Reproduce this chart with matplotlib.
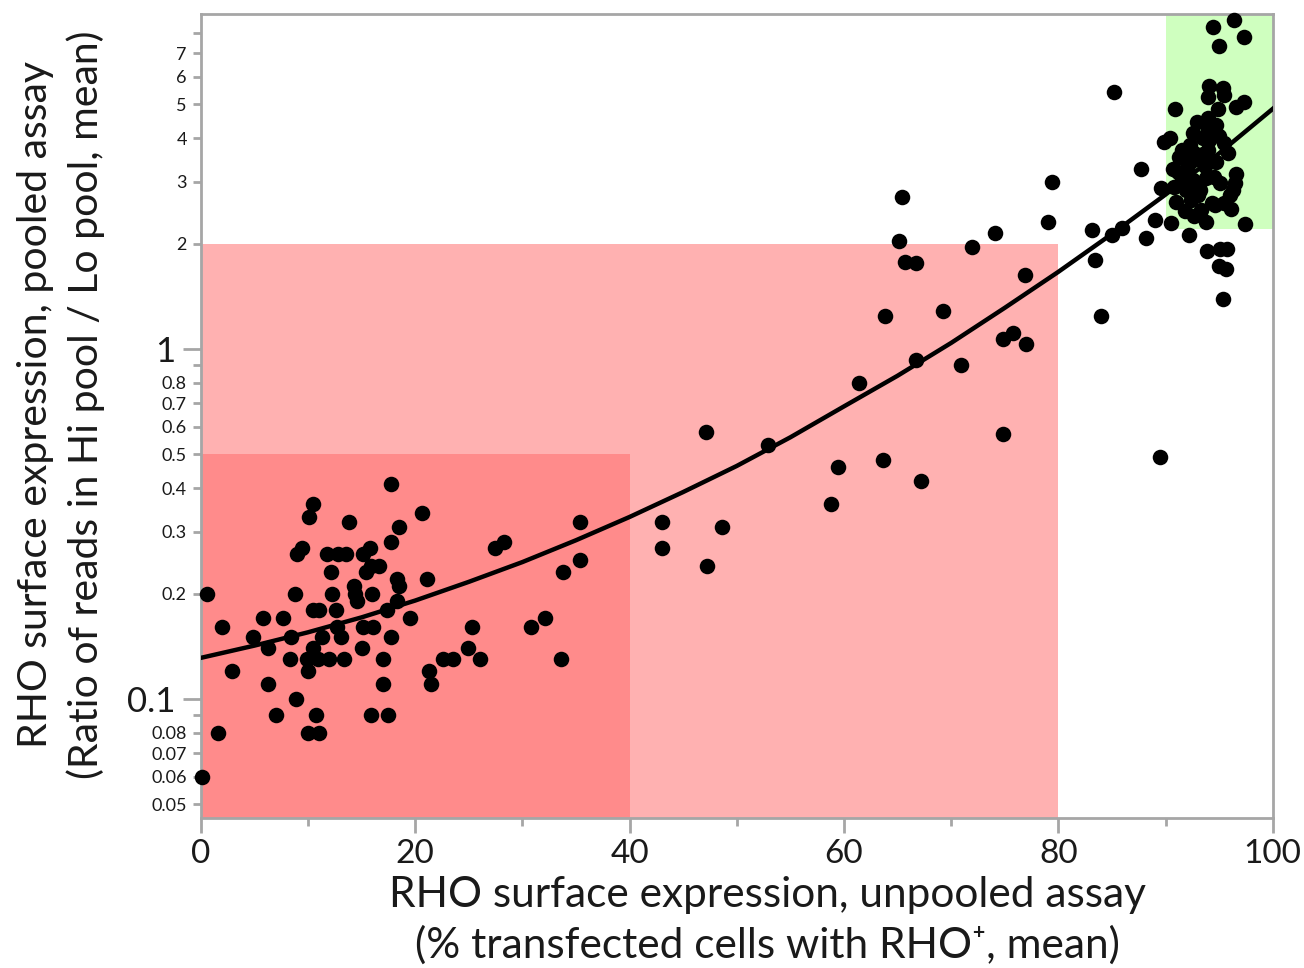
import matplotlib.pyplot as plt
from matplotlib.patches import Rectangle
from matplotlib.ticker import FixedLocator, FixedFormatter

plt.rcParams['font.family'] = ['Lato', 'DejaVu Sans']

# unpooled assay (% RHO+ cells) and pooled ratio (Hi/Lo)
low_x = [0.6, 0.1, 2.0, 1.6, 2.9, 4.9, 5.8, 6.3, 6.3, 7.0, 7.7, 8.4, 8.3, 8.8, 8.9, 9.0, 9.4,
         10.0, 10.1, 10.5, 10.5, 10.7, 11.0, 10.0, 9.9, 10.5, 11.0, 10.9, 11.3, 11.8, 12.1,
         12.2, 12.0, 12.7, 12.8, 13.5, 13.8, 13.1, 13.4, 14.3, 14.4, 14.6, 12.6, 15.1, 15.8,
         15.4, 15.9, 16.6, 16.0, 15.0, 15.1, 16.1, 15.9, 17.0, 17.0, 17.4, 17.5, 17.7, 17.7,
         17.7, 18.5, 18.3, 18.5, 18.3, 19.5, 20.6, 21.1, 21.3, 21.5, 22.6, 23.5, 24.9, 25.3,
         26.0, 27.4, 28.3, 30.8, 32.1, 33.6, 33.8, 35.4, 35.4]
low_y = [0.20, 0.06, 0.16, 0.08, 0.12, 0.15, 0.17, 0.14, 0.11, 0.09, 0.17, 0.15, 0.13, 0.20,
         0.10, 0.26, 0.27, 0.08, 0.33, 0.36, 0.18, 0.09, 0.08, 0.12, 0.13, 0.14, 0.18, 0.13,
         0.15, 0.26, 0.23, 0.20, 0.13, 0.16, 0.26, 0.26, 0.32, 0.15, 0.13, 0.21, 0.20, 0.19,
         0.18, 0.26, 0.27, 0.23, 0.24, 0.24, 0.20, 0.14, 0.16, 0.16, 0.09, 0.13, 0.11, 0.18,
         0.09, 0.41, 0.28, 0.15, 0.31, 0.22, 0.21, 0.19, 0.17, 0.34, 0.22, 0.12, 0.11, 0.13,
         0.13, 0.14, 0.16, 0.13, 0.27, 0.28, 0.16, 0.17, 0.13, 0.23, 0.32, 0.25]

mid_x = [43.0, 43.0, 47.1, 47.2, 48.6, 52.9, 58.8, 59.4, 61.4, 63.6, 63.8, 65.4, 65.1, 65.7,
         66.7, 66.7, 67.2, 69.2, 70.9, 71.9, 74.1, 74.8, 75.8, 74.8, 76.9, 77.0, 79.0, 79.4,
         83.1, 83.4, 84.0, 85.0, 85.9, 85.2, 87.7, 88.2, 89.0, 89.6, 89.5]
mid_y = [0.32, 0.27, 0.58, 0.24, 0.31, 0.53, 0.36, 0.46, 0.80, 0.48, 1.24, 2.71, 2.04, 1.77,
         1.76, 0.93, 0.42, 1.28, 0.90, 1.95, 2.14, 1.07, 1.11, 0.57, 1.63, 1.03, 2.31, 2.99,
         2.18, 1.80, 1.24, 2.12, 2.21, 5.41, 3.27, 2.07, 2.33, 2.88, 0.49]

high_x = [89.9, 90.4, 90.9, 90.7, 90.5, 92.2, 93.3, 94.6, 96.1, 97.4, 93.9, 95.1, 95.7, 95.0,
          95.6, 95.4, 91.8, 96.4, 94.4, 95.0, 97.3, 94.1, 95.4, 94.0, 95.5, 97.3, 96.6, 94.9,
          94.0, 94.7, 92.6, 94.0, 93.5, 92.3, 95.5, 91.3, 92.7, 94.0, 95.8, 92.1, 93.7, 94.7,
          96.6, 91.5, 92.6, 93.8, 95.1, 96.5, 91.9, 93.2, 96.0, 91.0, 92.4, 94.3, 95.5, 91.2,
          92.6, 94.1, 92.9, 92.3, 93.0, 94.5, 92.0, 93.5, 90.8, 93.8, 92.7, 96.3, 95.0, 91.5]
high_y = [3.91, 4.00, 4.84, 3.26, 2.29, 2.12, 2.49, 2.58, 2.51, 2.28, 1.90, 1.93, 1.93, 1.73,
          1.69, 1.39, 2.47, 8.71, 8.30, 7.35, 7.77, 5.64, 5.57, 5.25, 5.32, 5.09, 4.92, 4.84,
          4.56, 4.37, 4.14, 4.22, 4.00, 3.83, 3.87, 3.54, 3.62, 3.70, 3.62, 3.36, 3.32, 3.43,
          3.17, 3.04, 3.04, 3.07, 2.97, 2.97, 2.85, 2.85, 2.76, 2.63, 2.66, 2.61, 2.61, 3.20,
          3.47, 3.95, 4.45, 3.04, 2.75, 3.10, 3.15, 3.60, 2.90, 2.30, 2.40, 2.85, 4.05, 3.70]

# fitted trend, read every 5 %
fit_x = [0, 5, 10, 15, 20, 25, 30, 35, 40, 45, 50, 55, 60, 65, 70, 75, 80, 85, 90, 95, 100]
fit_y = [0.131, 0.142, 0.155, 0.171, 0.191, 0.216, 0.246, 0.284, 0.331, 0.390, 0.463, 0.559,
         0.685, 0.838, 1.04, 1.31, 1.66, 2.13, 2.76, 3.62, 4.85]

# y tick labels
minor_vals = [0.05, 0.06, 0.07, 0.08, 0.09, 0.2, 0.3, 0.4, 0.5, 0.6, 0.7, 0.8, 0.9,
              2, 3, 4, 5, 6, 7, 8]
minor_txt = ['0.05', '0.06', '0.07', '0.08', '', '0.2', '0.3', '0.4', '0.5', '0.6', '0.7',
             '0.8', '', '2', '3', '4', '5', '6', '7', '']

fig = plt.figure(figsize=(13.04, 9.68), dpi=100)
ax = fig.add_axes([0.154, 0.155, 0.822, 0.8305])
ax.set_yscale('log')
ax.set_xlim(0, 100)
ax.set_ylim(0.0457, 9.05)

ax.add_patch(Rectangle((0, 0.01), 80, 2 - 0.01, color='#ffb1b1', lw=0, zorder=0))
ax.add_patch(Rectangle((0, 0.01), 40, 0.5 - 0.01, color='#ff8b8b', lw=0, zorder=0.5))
ax.add_patch(Rectangle((90, 2.2), 10, 20, color='#cfffbf', lw=0, zorder=0))

ax.scatter(low_x + mid_x + high_x, low_y + mid_y + high_y, s=125, c='black',
           lw=0, zorder=3, clip_on=False)
ax.plot(fit_x, fit_y, color='black', lw=3.2, zorder=4)

gray = '#a6a6a6'
for s in ax.spines.values():
    s.set_color(gray)
    s.set_linewidth(2)

ax.set_xticks([0, 20, 40, 60, 80, 100])
ax.set_xticks([10, 30, 50, 70, 90], minor=True)
ax.yaxis.set_major_locator(FixedLocator([0.1, 1]))
ax.yaxis.set_major_formatter(FixedFormatter(['0.1', '1']))
ax.yaxis.set_minor_locator(FixedLocator(minor_vals))
ax.yaxis.set_minor_formatter(FixedFormatter(minor_txt))

ax.tick_params(axis='x', which='major', length=11, width=2, color=gray,
               labelsize=24, labelcolor='#1a1a1a', pad=4)
ax.tick_params(axis='x', which='minor', length=6, width=2, color=gray)
ax.tick_params(axis='y', which='major', length=13, width=2, color=gray,
               labelsize=25, labelcolor='#1a1a1a', pad=5)
ax.tick_params(axis='y', which='minor', length=6, width=2, color=gray,
               labelsize=13, labelcolor='#1a1a1a', pad=4)

ax.set_xlabel('RHO surface expression, unpooled assay\n(% transfected cells with RHO⁺, mean)',
              fontsize=30.5, color='#1a1a1a', linespacing=1.35)
ax.xaxis.set_label_coords(0.529, -0.072, transform=ax.transAxes)
ax.xaxis.label.set_va('top')
ax.set_ylabel('RHO surface expression, pooled assay\n(Ratio of reads in Hi pool / Lo pool, mean)',
              fontsize=29.5, color='#1a1a1a', linespacing=1.4)
ax.yaxis.set_label_coords(-0.089, 0.514, transform=ax.transAxes)

fig.savefig('out.png', dpi=100)
